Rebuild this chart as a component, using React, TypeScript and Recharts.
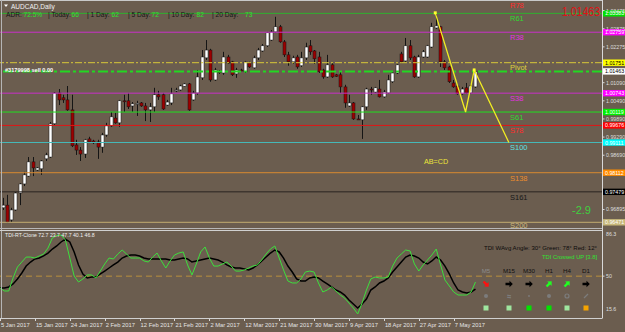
import { ComposedChart, Bar, Line, XAxis, YAxis, ReferenceLine } from "recharts";

// daily AUDCAD candles, Jan - May 2017
const opens = [
  0.9695, 0.9704, 0.9655, 0.9688, 0.9744, 0.9774, 0.98, 0.9847, 0.982, 0.9824,
  0.9857, 0.9863, 0.9973, 1.0075, 1.0059, 1.0052, 1.0019, 0.9903, 0.9886, 0.9873,
  0.9923, 0.9916, 0.9913, 0.9896, 0.9936, 0.9966, 0.9992, 0.9976, 1.0049, 1.0049,
  1.0032, 1.0039, 1.0042, 1.0032, 1.0019, 1.0029, 1.0069, 1.0069, 1.0035, 1.0042,
  1.0082, 1.0085, 1.0097, 1.0105, 1.0052, 1.0075, 1.0125, 1.0191, 1.0217, 1.0118,
  1.0145, 1.0141, 1.0194, 1.0178, 1.0138, 1.0151, 1.0145, 1.0174, 1.0158, 1.0191,
  1.0214, 1.0231, 1.025, 1.0277, 1.0294, 1.0244, 1.0201, 1.0178, 1.0194, 1.0165,
  1.0191, 1.0231, 1.0214, 1.0194, 1.0151, 1.0128, 1.0168, 1.0135, 1.0135, 1.0095,
  1.0032, 1.0042, 0.9989, 0.9986, 1.0029, 1.0088, 1.0078, 1.0088, 1.0062, 1.0075,
  1.0112, 1.0141, 1.0204, 1.0181, 1.0231, 1.0194, 1.0128, 1.0194, 1.0194, 1.0227,
  1.029, 1.0294, 1.0178, 1.0161, 1.0108, 1.0098, 1.0072, 1.0092, 1.0075, 1.0095,
];
const highs = [
  0.9728, 0.9738, 0.9695, 0.9747, 0.9777, 0.9814, 0.9863, 0.9863, 0.983, 0.9853,
  0.9877, 0.9979, 1.0078, 1.0088, 1.0069, 1.0098, 1.0069, 0.992, 0.9896, 0.9923,
  0.993, 0.992, 0.992, 0.9943, 0.9976, 1.0012, 1.0009, 1.0052, 1.0069, 1.0075,
  1.0045, 1.0049, 1.0045, 1.0042, 1.0042, 1.0092, 1.0082, 1.0075, 1.0052, 1.0092,
  1.0092, 1.0102, 1.0108, 1.0108, 1.0082, 1.0151, 1.0217, 1.025, 1.0221, 1.0158,
  1.0151, 1.0211, 1.0201, 1.0181, 1.0158, 1.0155, 1.0181, 1.0178, 1.0198, 1.0224,
  1.0237, 1.0277, 1.0283, 1.0327, 1.03, 1.025, 1.0211, 1.0198, 1.0201, 1.0211,
  1.0241, 1.025, 1.0217, 1.0211, 1.0155, 1.0201, 1.0174, 1.0138, 1.0145, 1.0102,
  1.0069, 1.0045, 1.0002, 1.0032, 1.0092, 1.0095, 1.0095, 1.0118, 1.0085, 1.0135,
  1.0145, 1.0171, 1.0211, 1.0257, 1.025, 1.0198, 1.0201, 1.0217, 1.0234, 1.0307,
  1.034, 1.0297, 1.0184, 1.0165, 1.0118, 1.0102, 1.0095, 1.0108, 1.0102, 1.0155,
];
const lows = [
  0.9688, 0.9645, 0.9648, 0.9685, 0.9704, 0.9767, 0.9797, 0.98, 0.9817, 0.9804,
  0.985, 0.986, 0.9969, 1.0035, 1.0042, 1.0016, 0.9896, 0.987, 0.985, 0.986,
  0.991, 0.9906, 0.9857, 0.9877, 0.993, 0.9963, 0.9973, 0.9963, 1.0012, 1.0022,
  1.0012, 0.9999, 1.0029, 0.9982, 0.9979, 1.0012, 1.0052, 1.0019, 1.0032, 1.0035,
  1.0078, 1.0082, 1.0095, 1.0016, 1.0049, 1.0069, 1.0118, 1.0184, 1.0112, 1.0115,
  1.0138, 1.0135, 1.0171, 1.0131, 1.0125, 1.0148, 1.0141, 1.0158, 1.0155, 1.0184,
  1.0211, 1.0227, 1.0247, 1.0274, 1.0241, 1.0194, 1.0165, 1.0171, 1.0155, 1.0161,
  1.0184, 1.0201, 1.0171, 1.0141, 1.0122, 1.0125, 1.0125, 1.0128, 1.0075, 1.0026,
  1.0029, 0.9986, 0.9986, 0.9923, 1.0019, 1.0069, 1.0075, 1.006, 1.0059, 1.0072,
  1.0108, 1.0138, 1.0174, 1.0178, 1.0184, 1.0125, 1.0125, 1.0191, 1.0191, 1.0224,
  1.0287, 1.0161, 1.0151, 1.0108, 1.0092, 1.0069, 1.0069, 1.0072, 1.0072, 1.0092,
];
const closes = [
  0.9704, 0.9648, 0.9688, 0.9744, 0.9774, 0.9804, 0.9847, 0.9827, 0.9827, 0.985,
  0.987, 0.9973, 1.0075, 1.0052, 1.0052, 1.0019, 0.99, 0.9886, 0.9873, 0.992,
  0.9913, 0.991, 0.9896, 0.9936, 0.9966, 0.9996, 0.9976, 1.0049, 1.0047, 1.0029,
  1.0039, 1.0041, 1.0032, 1.0019, 1.0029, 1.0069, 1.0062, 1.0022, 1.0045, 1.0072,
  1.0085, 1.0098, 1.0105, 1.0019, 1.0075, 1.0128, 1.0194, 1.0217, 1.0118, 1.0151,
  1.0142, 1.0194, 1.0174, 1.0135, 1.0151, 1.0149, 1.0178, 1.0161, 1.0191, 1.0217,
  1.0231, 1.0274, 1.0277, 1.0294, 1.0244, 1.0201, 1.0178, 1.0191, 1.0161, 1.0191,
  1.0227, 1.0211, 1.0188, 1.0145, 1.0128, 1.0168, 1.0128, 1.013, 1.0095, 1.0042,
  1.0042, 0.9989, 0.9987, 1.0029, 1.0088, 1.0085, 1.0092, 1.0062, 1.0078, 1.0118,
  1.0141, 1.0168, 1.0178, 1.0231, 1.0191, 1.0128, 1.0194, 1.0211, 1.0231, 1.0294,
  1.0297, 1.0178, 1.0158, 1.0112, 1.0095, 1.0072, 1.0088, 1.0075, 1.0098, 1.0146,
];

// TDI sub window
const tdiGreen = [
  40.3, 37.8, 37.8, 48.5, 57.5, 61.6, 65.7, 65.7, 64.9, 66.6,
  68.2, 73.1, 81.4, 83.4, 83.8, 79.7, 64.9, 50.1, 45.2, 47.7,
  51.0, 51.0, 48.5, 54.2, 60.0, 64.9, 64.1, 68.2, 71.5, 68.2,
  64.9, 64.9, 64.9, 62.5, 61.6, 65.7, 69.0, 62.5, 56.7, 62.5,
  67.4, 69.0, 69.9, 59.2, 51.0, 60.0, 69.9, 74.0, 64.9, 58.3,
  58.3, 60.0, 61.6, 58.3, 54.2, 54.2, 55.1, 56.7, 58.3, 59.2,
  63.3, 68.2, 72.3, 74.8, 64.9, 55.1, 46.0, 44.4, 44.4, 47.7,
  53.4, 54.2, 53.4, 44.4, 37.0, 38.6, 41.1, 37.8, 34.5, 32.0,
  27.9, 23.8, 18.9, 27.9, 38.6, 47.7, 49.3, 48.5, 48.5, 49.3,
  58.3, 64.9, 68.2, 71.5, 70.7, 60.0, 54.2, 59.2, 63.3, 67.4,
  72.3, 59.2, 46.8, 41.9, 37.0, 34.5, 34.5, 34.5, 37.0, 45.2,
];
const tdiSignal = [
  40.3, 40.3, 41.1, 43.6, 47.7, 52.6, 58.3, 61.6, 64.1, 64.9,
  66.6, 69.0, 72.3, 74.8, 78.1, 80.5, 78.1, 69.9, 59.2, 51.8,
  48.5, 49.3, 49.3, 51.8, 54.2, 56.7, 59.2, 61.6, 64.9, 66.6,
  67.4, 67.4, 66.6, 64.9, 64.1, 64.1, 64.1, 64.1, 64.1, 63.3,
  63.3, 64.1, 64.9, 64.1, 61.6, 62.5, 63.3, 64.1, 64.9, 64.1,
  63.3, 61.6, 59.2, 57.5, 56.7, 56.7, 55.9, 55.1, 56.7, 59.2,
  62.5, 65.7, 69.0, 71.5, 69.9, 64.9, 58.3, 53.4, 47.7, 46.0,
  46.0, 48.5, 49.3, 48.5, 46.0, 43.6, 41.1, 38.6, 37.0, 34.5,
  30.4, 27.1, 23.8, 27.1, 31.2, 38.6, 41.1, 44.4, 46.0, 48.5,
  53.4, 57.5, 61.6, 65.7, 67.4, 66.6, 64.9, 61.6, 60.0, 62.5,
  65.7, 63.3, 58.3, 51.8, 44.4, 38.6, 37.0, 36.2, 37.0, 39.4,
];

const dateLabels = [
  "5 Jan 2017", "15 Jan 2017", "24 Jan 2017", "2 Feb 2017", "12 Feb 2017",
  "21 Feb 2017", "2 Mar 2017", "12 Mar 2017", "21 Mar 2017", "30 Mar 2017",
  "9 Apr 2017", "18 Apr 2017", "27 Apr 2017", "7 May 2017",
];
const dateTickBars = [0, 8, 16, 24, 32, 40, 48, 56, 64, 72, 80, 88, 96, 104];

// AB=CD projection
const abcdBars = [100, 107, 109, 117];
const abcdPrices = [1.034, 1.0012, 1.0151, 0.99111];

// fib levels
const levelNames = ["R78", "R61", "R38", "Pivot", "S38", "S61", "S78", "S100", "S138", "S161", "S200"];
const levelValues = [1.03826, 1.03383, 1.02759, 1.01751, 1.00743, 1.00119, 0.99676, 0.99111, 0.98112, 0.97479, 0.96471];
const currentPrice = 1.01463;

const priceTicks = [1.03475, 1.02875, 1.02275, 1.0109, 1.0049, 0.9989, 0.9929, 0.9869, 0.96895];

const adrParts = [
  ["ADR:", "72.5%"], ["| Today:", "66"], ["| 1 Day:", "62"],
  ["| 5 Day:", "72"], ["| 10 Day:", "82"], ["|    20 Day:", "73"],
];

const tfNames = ["M5", "M15", "M30", "H1", "H4", "D1"];
const tfArrows = ["down", "right", "right", "up", "up", "right"];
const tfSquares = ["#9fe69f", "#9fe69f", "#00e400", "#00e400", "#9fe69f", "#f5a300"];

const BG = "#6b5d4f";
const FONT = "'Liberation Sans', Arial, sans-serif";
const SLOTS = 139;

const lineColors = ["none", "#2fb02f", "#c830c8", "#d8c838", "#c830c8", "#1ee01e", "#e01515", "#45b8b8", "#d88a30", "#2a2420", "#c4ad70"];
const labelColors = ["#ff2b2b", "#30d830", "#e030e0", "#dcd040", "#e030e0", "#30d830", "#ff2b2b", "#5ee0e0", "#ea8c2c", "#181818", "#cbb97c"];
const boxColors = ["", "#00e000", "#ff00ff", "#ffff00", "#ff00ff", "#00f000", "#ff0000", "#00ffff", "#ff8c00", "#000000", "#c8b87a"];
const boxText = ["", "#ffffff", "#ffffff", "#000000", "#ffffff", "#ffffff", "#ffffff", "#ffffff", "#ffffff", "#ffffff", "#ffffff"];

const rows = Array.from({ length: SLOTS }, (_, i) => {
  const k = abcdBars.indexOf(i);
  return {
    i,
    o: opens[i],
    h: highs[i],
    l: lows[i],
    c: closes[i],
    range: opens[i] != null ? [lows[i], highs[i]] : null,
    abcd: k >= 0 ? abcdPrices[k] : null,
    g: tdiGreen[i] ?? null,
    s: tdiSignal[i] ?? null,
  };
});

function Candle(props: any) {
  const { x, y, width, height, payload } = props;
  if (!payload || payload.o == null || x == null) return <g />;
  const top = Math.min(y, y + height);
  const bottom = Math.max(y, y + height);
  const span = payload.h - payload.l || 1e-9;
  const toY = (v: number) => top + ((payload.h - v) / span) * (bottom - top);
  const cx = Math.round(x + width / 2) + 0.5;
  const yo = toY(payload.o);
  const yc = toY(payload.c);
  const bull = payload.c >= payload.o;
  const bt = Math.min(yo, yc);
  const bh = Math.max(Math.abs(yo - yc), 1);
  return (
    <g>
      <line x1={cx} x2={cx} y1={top} y2={bottom} stroke="#151515" strokeWidth={1} />
      <rect x={cx - 1.5} y={bt} width={3} height={bh} fill={bull ? "#ffffff" : "#9c0000"} stroke="#151515" strokeWidth={0.5} />
    </g>
  );
}

function LevelLabel(props: any) {
  const { viewBox, name, color, box, boxFg, value } = props;
  if (!viewBox) return null;
  const y = viewBox.y;
  const right = viewBox.x + viewBox.width;
  // keep the lowest label inside the price window
  const dy = y > 215 ? 5.6 : 7.8;
  return (
    <g>
      {name ? (
        <text x={viewBox.x + 510} y={y + dy} fill={color} fontSize={7.5} fontFamily={FONT}>
          {name}
        </text>
      ) : null}
      {box ? (
        <g>
          <rect x={right + 1} y={y - 3.2} width={22} height={6.4} fill={box} />
          <text x={right + 3} y={y + 2} fill={boxFg} fontSize={5.3} fontFamily={FONT}>
            {value.toFixed(5)}
          </text>
        </g>
      ) : null}
    </g>
  );
}

function PriceTick(props: any) {
  const { x, y, payload } = props;
  return (
    <g>
      <line x1={x} x2={x + 2.5} y1={y} y2={y} stroke="#d8d8d8" />
      <text x={x + 4} y={y + 2} fill="#dedede" fontSize={5.3} fontFamily={FONT}>
        {Number(payload.value).toFixed(5)}
      </text>
    </g>
  );
}

function TdiTick(props: any) {
  const { x, y, payload } = props;
  const v = Number(payload.value);
  const dy = v > 80 ? 4 : v < 20 ? -7 : 2;
  return (
    <g>
      {v === 50 ? <line x1={x} x2={x + 2.5} y1={y} y2={y} stroke="#d8d8d8" /> : null}
      <text x={x + 4} y={y + dy} fill="#dedede" fontSize={5.3} fontFamily={FONT}>
        {v}
      </text>
    </g>
  );
}

function DateTick(props: any) {
  const { x, y, payload } = props;
  const k = dateTickBars.indexOf(Number(payload.value));
  if (k < 0) return <g />;
  return (
    <g>
      <line x1={Math.round(x) + 0.5} x2={Math.round(x) + 0.5} y1={y} y2={y + 3} stroke="#d8d8d8" />
      <text x={x + 1} y={y + 9} fill="#e4e4e4" fontSize={5.8} fontFamily={FONT}>
        {dateLabels[k]}
      </text>
    </g>
  );
}

function AbcdDot(props: any) {
  const { cx, cy, index } = props;
  if (cy == null || (index !== abcdBars[0] && index !== abcdBars[2])) return <g key={index} />;
  return <rect key={index} x={cx - 1.5} y={cy - 1.5} width={3} height={3} fill="#ffff30" />;
}

function Arrow({ x, y, dir, color }: { x: number; y: number; dir: string; color: string }) {
  const rot = dir === "up" ? -45 : dir === "down" ? 45 : 0;
  return (
    <polygon
      points="-3.5,-1.2 0.5,-1.2 0.5,-3.2 3.8,0 0.5,3.2 0.5,1.2 -3.5,1.2"
      fill={color}
      transform={`translate(${x},${y}) rotate(${rot})`}
    />
  );
}

export default function App() {
  const tfX = [486, 509, 529, 549, 567, 586];
  const arrowColor = (d: string) => (d === "down" ? "#ff1010" : d === "up" ? "#20ff20" : "#000000");
  const adrX = [6, 48, 87, 128, 168, 212];
  const adrValX = [23.5, 71.5, 111.5, 151.5, 196.5, 245];

  return (
    <div style={{ position: "absolute", left: 0, top: 0, width: 625, height: 332, background: BG, overflow: "hidden" }}>
      <div style={{ position: "absolute", left: 0, top: 0 }}>
        <ComposedChart width={625} height={229} data={rows} margin={{ top: 2, right: 0, bottom: 1, left: 0 }}>
          <XAxis dataKey="i" type="category" hide />
          <YAxis
            orientation="right"
            width={23}
            domain={[0.962828, 1.037588]}
            allowDataOverflow
            ticks={priceTicks}
            interval={0}
            tick={<PriceTick />}
            axisLine={false}
            tickLine={false}
            tickSize={0}
            tickMargin={0}
          />
          {levelValues.map((v, k) => (
            <ReferenceLine
              key={levelNames[k]}
              y={v}
              ifOverflow="visible"
              stroke={lineColors[k]}
              strokeWidth={1}
              strokeDasharray={levelNames[k] === "Pivot" ? "7 2 2 2" : undefined}
              label={
                <LevelLabel
                  name={levelNames[k]}
                  color={labelColors[k]}
                  box={boxColors[k]}
                  boxFg={boxText[k]}
                  value={v}
                />
              }
            />
          ))}
          <ReferenceLine
            y={currentPrice}
            stroke="#22d822"
            strokeWidth={2}
            strokeDasharray="10 3 3 3"
            label={<LevelLabel name="" box="#ffffff" boxFg="#000000" value={currentPrice} />}
          />
          <Bar dataKey="range" barSize={3} shape={(p: any) => <Candle {...p} />} isAnimationActive={false} />
          <Line
            dataKey="abcd"
            connectNulls
            stroke="#f2ee22"
            strokeWidth={1.3}
            dot={(p: any) => <AbcdDot {...p} />}
            activeDot={false}
            isAnimationActive={false}
            type="linear"
          />
        </ComposedChart>
      </div>

      <div style={{ position: "absolute", left: 0, top: 229 }}>
        <ComposedChart width={625} height={103} data={rows} margin={{ top: 3, right: 0, bottom: 0, left: 0 }}>
          <XAxis
            dataKey="i"
            type="category"
            interval={7}
            tick={<DateTick />}
            axisLine={false}
            tickLine={false}
            tickSize={0}
            tickMargin={0}
            height={14}
          />
          <YAxis
            orientation="right"
            width={23}
            domain={[15.6, 86.3]}
            allowDataOverflow
            ticks={[15.6, 50, 86.3]}
            interval={0}
            tick={<TdiTick />}
            axisLine={false}
            tickLine={false}
            tickSize={0}
            tickMargin={0}
          />
          <ReferenceLine y={50} stroke="#b98f3c" strokeDasharray="6 4" />
          <Line dataKey="s" stroke="#000000" strokeWidth={1.5} dot={false} activeDot={false} isAnimationActive={false} type="linear" />
          <Line dataKey="g" stroke="#3de03d" strokeWidth={1} dot={false} activeDot={false} isAnimationActive={false} type="linear" />
        </ComposedChart>
      </div>

      <svg width={625} height={332} style={{ position: "absolute", left: 0, top: 0, pointerEvents: "none" }} fontFamily={FONT}>
        {/* frame */}
        <line x1={0} x2={602} y1={0.5} y2={0.5} stroke="#c9c9c9" />
        <line x1={1.5} x2={1.5} y1={0} y2={318} stroke="#b5b5b5" />
        <line x1={602.5} x2={602.5} y1={0} y2={318.5} stroke="#d8d8d8" />
        <line x1={0} x2={602} y1={228.5} y2={228.5} stroke="#b8b8b8" />
        <line x1={0} x2={602} y1={230.5} y2={230.5} stroke="#d0d0d0" />
        <line x1={0} x2={602} y1={318.5} y2={318.5} stroke="#d0d0d0" />

        {/* header texts */}
        <polygon points="4,4.5 8,4.5 6,7" fill="#ffffff" />
        <text x={11} y={8.6} fill="#f2f2f2" fontSize={6.5}>AUDCAD,Daily</text>
        {adrParts.map((p, k) => (
          <g key={k}>
            <text x={adrX[k]} y={16.8} fill="#151515" fontSize={6.6}>{p[0]}</text>
            <text x={adrValX[k]} y={16.8} fill="#2ee02e" fontSize={6.6}>{p[1]}</text>
          </g>
        ))}
        <text x={600} y={15.5} fill="#e01414" fontSize={13} textAnchor="end" textLength={38} lengthAdjust="spacingAndGlyphs">
          1.01463
        </text>
        <text x={5} y={71.5} fill="#ffffff" fontSize={5.6} fontWeight="bold">#3179998 sell 0.00</text>
        <text x={424} y={163.5} fill="#ece43a" fontSize={7.2}>AB=CD</text>
        <text x={572} y={213.5} fill="#3fd03f" fontSize={11}>-2.9</text>

        {/* TDI texts */}
        <text x={5} y={237} fill="#f0f0f0" fontSize={5.2}>TDI-RT-Clone 72.7 23.7 47.7 40.1 46.8</text>
        <text x={597} y={250} fill="#0c0c0c" fontSize={6} textAnchor="end" textLength={113} lengthAdjust="spacingAndGlyphs">
          TDI WAvg Angle: 30°  Green: 78°  Red: 12°
        </text>
        <text x={597} y={258.5} fill="#30e030" fontSize={6} textAnchor="end" textLength={55} lengthAdjust="spacingAndGlyphs">
          TDI Crossed UP [3.8]
        </text>
        {tfNames.map((n, k) => (
          <g key={n}>
            <text x={tfX[k]} y={273.2} fill={k === 0 ? "#8c8c8c" : "#101010"} fontSize={6.2} textAnchor="middle">{n}</text>
            <Arrow x={tfX[k]} y={284} dir={tfArrows[k]} color={arrowColor(tfArrows[k])} />
            <rect x={tfX[k] - 2.5} y={305.5} width={5} height={5} fill={tfSquares[k]} />
          </g>
        ))}
        <circle cx={tfX[0]} cy={296} r={2} fill="#7c7c7c" />
        <text x={tfX[1]} y={298} fill="#7c7c7c" fontSize={5} textAnchor="middle">⇆</text>
        <circle cx={tfX[2]} cy={296} r={0.9} fill="#7c7c7c" />
        <circle cx={tfX[3]} cy={296} r={2} fill="#7c7c7c" />
        <circle cx={tfX[4]} cy={296} r={2} fill="none" stroke="#7c7c7c" strokeWidth={1.2} />
        <line x1={tfX[5] - 2} x2={tfX[5] + 2} y1={298} y2={294} stroke="#7c7c7c" strokeWidth={1.2} />
      </svg>
    </div>
  );
}
